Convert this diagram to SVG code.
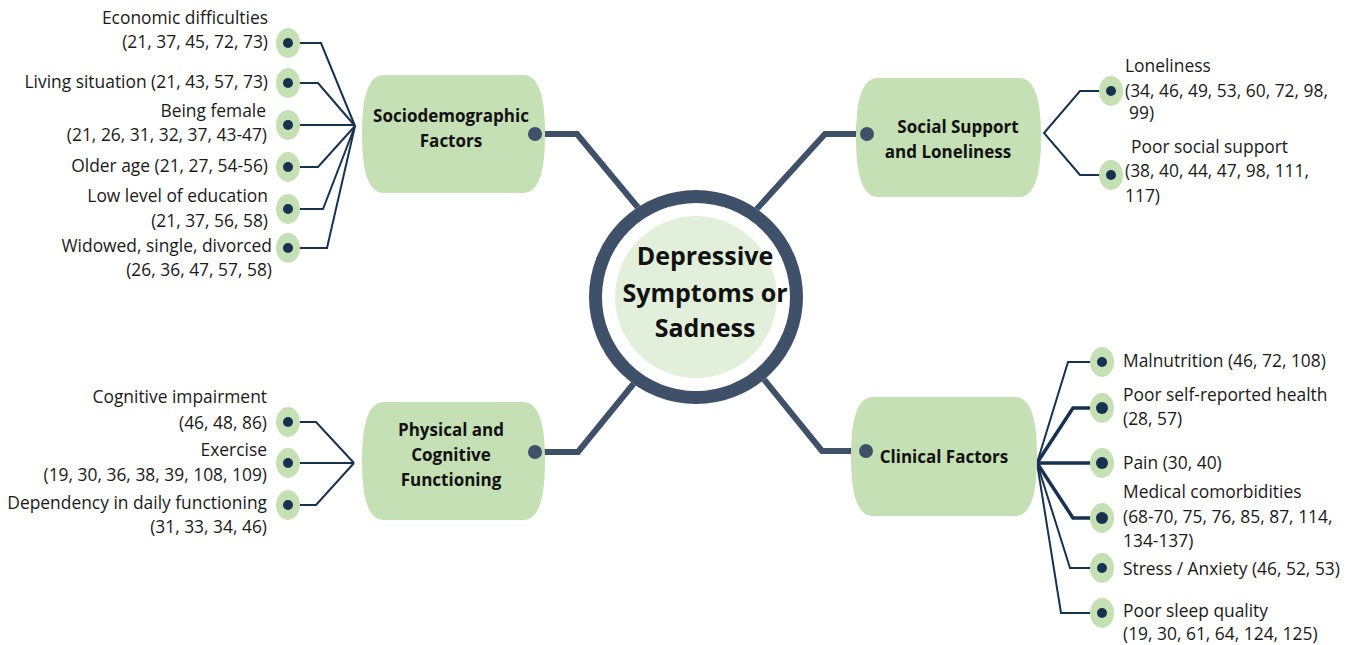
<svg xmlns="http://www.w3.org/2000/svg" width="1360" height="645" viewBox="0 0 1360 645">
<style>
.box{fill:#c5e0b4;}
.leafbg{fill:#c5e0b4;}
.leafdot{fill:#17324f;}
.thin{fill:none;stroke:#17324f;stroke-width:2;stroke-linejoin:miter;}
.thick2{fill:none;stroke:#17324f;stroke-width:3.5;}
.main{fill:none;stroke:#3f5169;stroke-width:6;stroke-linejoin:miter;}
.maindot{fill:#3f5169;}
.lbl{font-family:"Open Sans","Liberation Sans",sans-serif;font-size:17.4px;fill:#1a1a1a;}
.end{text-anchor:end;}
.bt{font-family:"Open Sans","Liberation Sans",sans-serif;font-size:17px;font-weight:bold;fill:#111;text-anchor:middle;}
.ct{font-family:"Open Sans","Liberation Sans",sans-serif;font-size:25px;font-weight:bold;fill:#111;text-anchor:middle;}
</style>
<rect width="1360" height="645" fill="#ffffff"/>

<g id="connectors">
  <path class="main" d="M535,134 H577 L645,216"/>
  <path class="main" d="M867,134 H825 L755,211"/>
  <path class="main" d="M535,452 H578 L648,366"/>
  <path class="main" d="M866,451 H822 L753,366"/>
  <path class="thin" d="M288,43 H321 L355,126"/>
  <path class="thin" d="M288,83 H318 L355,126"/>
  <path class="thin" d="M288,125 H355"/>
  <path class="thin" d="M288,167 H318 L355,126"/>
  <path class="thin" d="M288,209 H323 L355,126"/>
  <path class="thin" d="M288,248 H327 L355,126"/>
  <path class="thin" d="M288,422 H316 L354,463"/>
  <path class="thin" d="M288,463 H354"/>
  <path class="thin" d="M288,505 H316 L354,463"/>
  <path class="thin" d="M1111,91 H1080 L1044,133 L1080,175 H1111"/>
  <path class="thin" d="M1102,362 H1068 L1037,463"/>
  <path class="thick2" d="M1102,408 H1073 L1037,463"/>
  <path class="thick2" d="M1037,463 H1102"/>
  <path class="thick2" d="M1102,518 H1073 L1037,463"/>
  <path class="thin" d="M1102,568 H1070 L1037,463"/>
  <path class="thin" d="M1102,613 H1061 L1037,463"/>
</g>

<g id="center">
  <circle cx="696" cy="297" r="107" fill="#ffffff"/>
  <circle cx="696" cy="297" r="100.5" fill="none" stroke="#3f5169" stroke-width="13"/>
  <circle cx="696" cy="297" r="81" fill="#e2efda"/>
  <text class="ct" x="705" y="265">Depressive</text>
  <text class="ct" x="705" y="302">Symptoms or</text>
  <text class="ct" x="705" y="337">Sadness</text>
</g>

<g id="sociodemographic">
  <path class="box" d="M384,75 H523 C539,75 545,97 545,134 C545,171 539,193 523,193 H384 C368,193 362,171 362,134 C362,97 368,75 384,75 Z"/>
  <circle class="maindot" cx="535" cy="134" r="7"/>
  <text class="bt" x="451" y="122">Sociodemographic</text>
  <text class="bt" x="451" y="147">Factors</text>
</g>

<g id="social-support">
  <path class="box" d="M878,78 H1019 C1035,78 1041,100 1041,137 C1041,174 1035,197 1019,197 H878 C862,197 856,174 856,137 C856,100 862,78 878,78 Z"/>
  <circle class="maindot" cx="867" cy="134" r="7"/>
  <text class="bt" x="958" y="133">Social Support</text>
  <text class="bt" x="948" y="158">and Loneliness</text>
</g>

<g id="physical">
  <path class="box" d="M384,402 H523 C539,402 545,424 545,461 C545,498 539,520 523,520 H384 C368,520 362,498 362,461 C362,424 368,402 384,402 Z"/>
  <circle class="maindot" cx="535" cy="452" r="7"/>
  <text class="bt" x="451" y="436">Physical and</text>
  <text class="bt" x="451" y="461">Cognitive</text>
  <text class="bt" x="451" y="486">Functioning</text>
</g>

<g id="clinical">
  <path class="box" d="M873,397 H1015 C1031,397 1037,419 1037,456 C1037,494 1031,516 1015,516 H873 C857,516 851,494 851,456 C851,419 857,397 873,397 Z"/>
  <circle class="maindot" cx="866" cy="451" r="7"/>
  <text class="bt" x="944" y="463">Clinical Factors</text>
</g>

<g id="leaf-economic">
  <ellipse class="leafbg" cx="288" cy="43" rx="12" ry="15"/>
  <circle class="leafdot" cx="288" cy="43" r="5"/>
  <text class="lbl end" x="268" y="24">Economic difficulties</text>
  <text class="lbl end" x="268" y="48">(21, 37, 45, 72, 73)</text>
</g>
<g id="leaf-living">
  <ellipse class="leafbg" cx="288" cy="83" rx="12" ry="15"/>
  <circle class="leafdot" cx="288" cy="83" r="5"/>
  <text class="lbl end" x="268" y="88">Living situation (21, 43, 57, 73)</text>
</g>
<g id="leaf-female">
  <ellipse class="leafbg" cx="288" cy="125" rx="12" ry="15"/>
  <circle class="leafdot" cx="288" cy="125" r="5"/>
  <text class="lbl end" x="266" y="117">Being female</text>
  <text class="lbl end" x="267" y="141">(21, 26, 31, 32, 37, 43-47)</text>
</g>
<g id="leaf-older">
  <ellipse class="leafbg" cx="288" cy="167" rx="12" ry="15"/>
  <circle class="leafdot" cx="288" cy="167" r="5"/>
  <text class="lbl end" x="268" y="172">Older age (21, 27, 54-56)</text>
</g>
<g id="leaf-education">
  <ellipse class="leafbg" cx="288" cy="209" rx="12" ry="15"/>
  <circle class="leafdot" cx="288" cy="209" r="5"/>
  <text class="lbl end" x="268" y="202">Low level of education</text>
  <text class="lbl end" x="268" y="227">(21, 37, 56, 58)</text>
</g>
<g id="leaf-widowed">
  <ellipse class="leafbg" cx="288" cy="248" rx="12" ry="15"/>
  <circle class="leafdot" cx="288" cy="248" r="5"/>
  <text class="lbl end" x="272" y="252">Widowed, single, divorced</text>
  <text class="lbl end" x="272" y="276">(26, 36, 47, 57, 58)</text>
</g>

<g id="leaf-cognitive">
  <ellipse class="leafbg" cx="288" cy="422" rx="12" ry="15"/>
  <circle class="leafdot" cx="288" cy="422" r="5"/>
  <text class="lbl end" x="267" y="403">Cognitive impairment</text>
  <text class="lbl end" x="267" y="429">(46, 48, 86)</text>
</g>
<g id="leaf-exercise">
  <ellipse class="leafbg" cx="288" cy="463" rx="12" ry="15"/>
  <circle class="leafdot" cx="288" cy="463" r="5"/>
  <text class="lbl end" x="267" y="456">Exercise</text>
  <text class="lbl end" x="267" y="481">(19, 30, 36, 38, 39, 108, 109)</text>
</g>
<g id="leaf-dependency">
  <ellipse class="leafbg" cx="288" cy="505" rx="12" ry="15"/>
  <circle class="leafdot" cx="288" cy="505" r="5"/>
  <text class="lbl end" x="267" y="509">Dependency in daily functioning</text>
  <text class="lbl end" x="267" y="533">(31, 33, 34, 46)</text>
</g>

<g id="leaf-loneliness">
  <ellipse class="leafbg" cx="1111" cy="91" rx="12" ry="15"/>
  <circle class="leafdot" cx="1111" cy="91" r="5"/>
  <text class="lbl" x="1125" y="72">Loneliness</text>
  <text class="lbl" x="1125" y="97">(34, 46, 49, 53, 60, 72, 98,</text>
  <text class="lbl" x="1129" y="119">99)</text>
</g>
<g id="leaf-poor-social">
  <ellipse class="leafbg" cx="1111" cy="175" rx="12" ry="15"/>
  <circle class="leafdot" cx="1111" cy="175" r="5"/>
  <text class="lbl" x="1131" y="153">Poor social support</text>
  <text class="lbl" x="1125" y="177">(38, 40, 44, 47, 98, 111,</text>
  <text class="lbl" x="1125" y="202">117)</text>
</g>

<g id="leaf-malnutrition">
  <ellipse class="leafbg" cx="1102" cy="362" rx="12" ry="15"/>
  <circle class="leafdot" cx="1102" cy="362" r="5"/>
  <text class="lbl" x="1123" y="367">Malnutrition (46, 72, 108)</text>
</g>
<g id="leaf-self-health">
  <ellipse class="leafbg" cx="1102" cy="408" rx="12" ry="15"/>
  <circle class="leafdot" cx="1102" cy="408" r="6"/>
  <text class="lbl" x="1123" y="401">Poor self-reported health</text>
  <text class="lbl" x="1123" y="425">(28, 57)</text>
</g>
<g id="leaf-pain">
  <ellipse class="leafbg" cx="1102" cy="463" rx="12" ry="15"/>
  <circle class="leafdot" cx="1102" cy="463" r="6"/>
  <text class="lbl" x="1123" y="469">Pain (30, 40)</text>
</g>
<g id="leaf-comorbidities">
  <ellipse class="leafbg" cx="1102" cy="518" rx="12" ry="15"/>
  <circle class="leafdot" cx="1102" cy="518" r="6"/>
  <text class="lbl" x="1123" y="498">Medical comorbidities</text>
  <text class="lbl" x="1123" y="523">(68-70, 75, 76, 85, 87, 114,</text>
  <text class="lbl" x="1123" y="547">134-137)</text>
</g>
<g id="leaf-stress">
  <ellipse class="leafbg" cx="1102" cy="568" rx="12" ry="15"/>
  <circle class="leafdot" cx="1102" cy="568" r="5"/>
  <text class="lbl" x="1123" y="575">Stress / Anxiety (46, 52, 53)</text>
</g>
<g id="leaf-sleep">
  <ellipse class="leafbg" cx="1102" cy="613" rx="12" ry="15"/>
  <circle class="leafdot" cx="1102" cy="613" r="5"/>
  <text class="lbl" x="1123" y="617">Poor sleep quality</text>
  <text class="lbl" x="1123" y="640">(19, 30, 61, 64, 124, 125)</text>
</g>
</svg>
